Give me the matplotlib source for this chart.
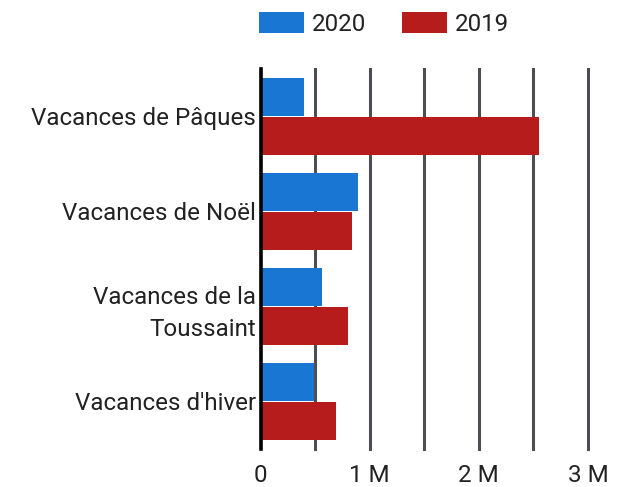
import matplotlib
matplotlib.use("Agg")
import matplotlib.pyplot as plt
import numpy as np
from matplotlib.ticker import FixedLocator

plt.rcParams['font.family'] = ['Roboto', 'DejaVu Sans']

categories = ["Vacances de Pâques", "Vacances de Noël", "Vacances de la\nToussaint", "Vacances d'hiver"]
series_names = ["2020", "2019"]
values_2020 = [0.40e6, 0.895e6, 0.565e6, 0.49e6]
values_2019 = [2.55e6, 0.84e6, 0.80e6, 0.69e6]
colors = ["#1976D2", "#B71C1C"]
tick_values = [0, 1e6, 2e6, 3e6]
tick_labels = ["0", "1 M", "2 M", "3 M"]

FS = 17.4
fig = plt.figure(figsize=(6.2, 4.87), dpi=100)
ax = fig.add_axes([260.5/620, 1-449/487, (588-260.5)/620, (449-69)/487])

y = np.arange(len(categories))
h = 0.4
off = 0.21
ax.barh(y - off, values_2020, height=h, color=colors[0], label=series_names[0], zorder=3)
ax.barh(y + off, values_2019, height=h, color=colors[1], label=series_names[1], zorder=3)

ax.set_ylim(len(categories) - 0.5, -0.5)
ax.set_xlim(0, 3e6)
ax.set_yticks(y)
ax.set_yticklabels(categories, fontsize=FS, color="#222222", linespacing=1.5)
ax.tick_params(axis='y', length=0, pad=3.5)

ax.xaxis.set_major_locator(FixedLocator(tick_values))
ax.set_xticklabels(tick_labels, fontsize=FS, color="#222222")
ax.tick_params(axis='x', length=0, pad=10.5)

for g in np.arange(0.5e6, 3.01e6, 0.5e6):
    ax.axvline(g, color="#4d4d52", lw=2.2, zorder=1, clip_on=False)

for s in ax.spines.values():
    s.set_visible(False)
ax.axvline(0, color="black", lw=2.6, zorder=4, clip_on=False)

leg = fig.legend(loc='upper left', bbox_to_anchor=(259/620, 1-12/487), ncol=2, frameon=False,
                 fontsize=FS, handlelength=1.86, handleheight=0.95, columnspacing=1.5,
                 handletextpad=0.33, borderaxespad=0, borderpad=0)
for t in leg.get_texts():
    t.set_color("#222222")

fig.savefig("out.png", dpi=100)
